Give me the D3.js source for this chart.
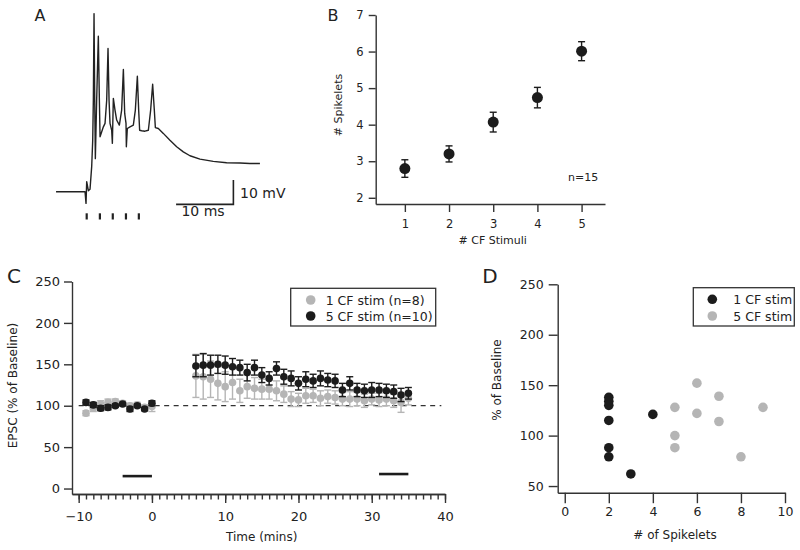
<!DOCTYPE html>
<html>
<head>
<meta charset="utf-8">
<script src="https://cdn.jsdelivr.net/npm/d3@7"></script>
<style>
  body { margin: 0; background: #fff; }
  svg { display: block; font-family: "DejaVu Sans", sans-serif; }
  .axis path, .axis line { stroke: #333; stroke-width: 1.4; }
  .axis text { fill: #222; }
</style>
</head>
<body>
<div id="fig"></div>
<script>
// Panel A: example voltage trace (ms, mV) and CF stimulus times
const traceT = [-5.35, -0.29, -0.12, 0, 0.29, 0.58, 0.87, 1.05, 1.16, 1.28, 1.40, 1.51, 1.74, 2.03, 2.21, 2.33,
    2.62, 2.91, 3.20, 3.49, 3.72, 3.90, 4.07, 4.36, 4.48, 4.65, 4.94, 5.23, 5.70, 6.10, 6.40, 6.63, 6.86,
    6.92, 7.09, 7.56, 8.14, 8.49, 8.84, 9.07, 9.24, 9.59, 10.17, 10.76, 11.16, 11.51, 11.80, 11.98, 12.50,
    13.37, 14.53, 15.70, 16.86, 18.02, 19.77, 22.09, 24.42, 26.74, 28.49, 30.23];
const traceV = [-70, -70, -74.8, -65.9, -69.6, -69.0, -59.7, -48.8, -32.3, 3.3, -32.3, -56.4, -32.3, -6.0, -32.3, -47.4,
    -45.3, -43.3, -41.9, -32.3, -11.1, -32.3, -41.9, -44.7, -50.1, -31.6, -36.4, -40.5, -42.6, -36.4, -19.7, -37.8, -41.9,
    -51.5, -44.0, -43.3, -42.6, -36.4, -22.5, -36.4, -44.7, -44.9, -45.1, -44.7, -36.4, -25.8, -36.4, -43.6, -44.0,
    -46.0, -48.8, -51.5, -53.6, -55.2, -56.6, -57.5, -58.1, -58.2, -58.4, -58.4];
const stimTimes = [0, 2.3, 4.55, 6.85, 9.1];

// Panel B: spikelets per number of CF stimuli
const cfStimuli = [1, 2, 3, 4, 5];
const spikeletMean = [2.80, 3.20, 4.07, 4.74, 6.01];
const spikeletSem = [0.24, 0.22, 0.27, 0.28, 0.26];

// Panel C: EPSC time course
const timeMins = [-9, -8, -7, -6, -5, -4, -3, -2, -1, 0,
    6, 7, 8, 9, 10, 11, 12, 13, 14, 15, 16, 17, 18, 19, 20,
    21, 22, 23, 24, 25, 26, 27, 28, 29, 30, 31, 32, 33, 34, 35];
const oneCfEpsc = [91, 97, 102, 104, 105, 103, 100, 101, 98, 99,
    136, 135, 132, 127, 123, 128, 118, 123, 121, 120, 120, 118, 114, 108, 107,
    112, 112, 109, 111, 110, 108, 108, 108, 106, 108, 107, 108, 106, 104, 109];
const oneCfSem = [3, 4, 4, 4, 3, 3, 3, 3, 3, 6,
    26, 27, 22, 20, 18, 20, 14, 14, 13, 12, 12, 12, 10, 9, 8,
    9, 8, 9, 8, 8, 8, 9, 8, 8, 7, 8, 8, 8, 12, 8];
const fiveCfEpsc = [104, 101, 97, 98, 100, 102, 96, 100, 96, 103,
    148, 149, 149, 150, 149, 147, 146, 140, 146, 137, 133, 145, 135, 133, 127,
    132, 130, 133, 131, 130, 119, 127, 119, 118, 119, 119, 118, 117, 113, 115];
const fiveCfSem = [3, 3, 3, 3, 2, 2, 3, 2, 2, 3,
    13, 14, 12, 11, 11, 10, 9, 10, 9, 9, 8, 8, 9, 9, 8,
    9, 8, 9, 8, 8, 8, 8, 8, 8, 9, 8, 8, 8, 8, 7];
const baselineWindow = [-4, 0];
const postWindow = [31, 35];

// Panel D: plasticity vs spikelets per cell
const oneCfSpikelets = [2, 2, 2, 2, 2, 2, 3, 4];
const oneCfPct = [138, 134, 130, 115, 88, 79, 62, 121];
const fiveCfSpikelets = [5, 5, 5, 6, 6, 7, 7, 8, 9];
const fiveCfPct = [128, 100, 88, 152, 122, 139, 114, 79, 128];

const dark = "#1c1c1c", light = "#b5b5b5";

const svg = d3.select("#fig").append("svg")
    .attr("width", 800)
    .attr("height", 550);
svg.append("rect").attr("width", 800).attr("height", 550).attr("fill", "#fff");

function panelLabel(txt, x, y, size) {
    svg.append("text").attr("x", x).attr("y", y)
        .attr("text-anchor", "middle")
        .style("font-size", size + "px").attr("fill", "#222")
        .text(txt);
}

function errorBars(g, xs, ys, es, sx, sy, color, cap) {
    xs.forEach((xv, i) => {
        const cx = sx(xv);
        g.append("line").attr("x1", cx).attr("x2", cx)
            .attr("y1", sy(ys[i] - es[i])).attr("y2", sy(ys[i] + es[i]))
            .attr("stroke", color).attr("stroke-width", 1.4);
        [ys[i] - es[i], ys[i] + es[i]].forEach(v => {
            g.append("line").attr("x1", cx - cap).attr("x2", cx + cap)
                .attr("y1", sy(v)).attr("y2", sy(v))
                .attr("stroke", color).attr("stroke-width", 1.4);
        });
    });
}

// ---------- A ----------
panelLabel("A", 40, 21, 16);
const xA = d3.scaleLinear().domain([0, 10]).range([86.7, 144]);
const yA = d3.scaleLinear().domain([-70, -60]).range([191.7, 167.4]);

svg.append("path")
    .datum(traceT)
    .attr("d", d3.line().x(d => xA(d)).y((d, i) => yA(traceV[i])))
    .attr("fill", "none").attr("stroke", "#222").attr("stroke-width", 1.4)
    .attr("stroke-linejoin", "round");

svg.selectAll(".stim").data(stimTimes).enter().append("line")
    .attr("x1", d => xA(d)).attr("x2", d => xA(d))
    .attr("y1", 213.3).attr("y2", 219.5)
    .attr("stroke", "#222").attr("stroke-width", 2.2);

// scale bars 10 ms / 10 mV
const sbT = 15.6, sbV = -75.2;
svg.append("path")
    .attr("d", `M${xA(sbT)},${yA(sbV)}H${xA(sbT + 10)}V${yA(sbV + 10)}`)
    .attr("fill", "none").attr("stroke", "#222").attr("stroke-width", 1.6);
svg.append("text").attr("x", 240).attr("y", 198).style("font-size", "14px").attr("fill", "#222").text("10 mV");
svg.append("text").attr("x", 203).attr("y", 216).attr("text-anchor", "middle")
    .style("font-size", "14px").attr("fill", "#222").text("10 ms");

// ---------- B ----------
panelLabel("B", 333, 21, 16);
const xB = d3.scaleLinear().domain([0.34, 5.53]).range([375.7, 605]);
const yB = d3.scaleLinear().domain([1.83, 7]).range([204, 15]);
const gB = svg.append("g");
gB.append("g").attr("class", "axis").attr("transform", "translate(375.7,0)")
    .call(d3.axisLeft(yB).tickValues([2, 3, 4, 5, 6, 7]).tickFormat(d3.format("d"))
        .tickSize(7).tickPadding(5).tickSizeOuter(0))
    .selectAll("text").style("font-size", "11.5px");
gB.append("g").attr("class", "axis").attr("transform", "translate(0,204)")
    .call(d3.axisBottom(xB).tickValues(cfStimuli).tickFormat(d3.format("d"))
        .tickSize(8).tickPadding(8).tickSizeOuter(0))
    .selectAll("text").style("font-size", "11.5px");
gB.selectAll(".axis").attr("font-family", null);
errorBars(gB, cfStimuli, spikeletMean, spikeletSem, xB, yB, dark, 3.5);
gB.selectAll(".ptB").data(cfStimuli).enter().append("circle")
    .attr("cx", d => xB(d)).attr("cy", (d, i) => yB(spikeletMean[i]))
    .attr("r", 5.5).attr("fill", dark);
gB.append("text").attr("transform", "translate(342,105) rotate(-90)")
    .attr("text-anchor", "middle").style("font-size", "11px").attr("fill", "#222").text("# Spikelets");
gB.append("text").attr("x", 492.7).attr("y", 244)
    .attr("text-anchor", "middle").style("font-size", "11px").attr("fill", "#222").text("# CF Stimuli");
gB.append("text").attr("x", 598.3).attr("y", 180.5)
    .attr("text-anchor", "end").style("font-size", "11px").attr("fill", "#222").text("n=15");

// ---------- C ----------
panelLabel("C", 14, 283, 20);
const xC = d3.scaleLinear().domain([-10.91, 40]).range([72, 445]);
const yC = d3.scaleLinear().domain([-6.6, 250]).range([494, 281.5]);
const gC = svg.append("g");
gC.append("g").attr("class", "axis").attr("transform", "translate(72,0)")
    .call(d3.axisLeft(yC).tickValues(d3.range(0, 251, 50)).tickSize(8).tickPadding(4).tickSizeOuter(0))
    .selectAll("text").style("font-size", "13px");
gC.append("g").attr("class", "axis").attr("transform", "translate(0,494)")
    .call(d3.axisBottom(xC).tickValues(d3.range(-10, 41, 1)).tickSize(5.5).tickFormat("").tickSizeOuter(0));
gC.append("g").attr("class", "axis").attr("transform", "translate(0,494)")
    .call(d3.axisBottom(xC).tickValues(d3.range(-10, 41, 10)).tickSize(9).tickPadding(9).tickSizeOuter(0))
    .selectAll("text").style("font-size", "13px");
gC.selectAll(".axis").attr("font-family", null);

gC.append("line")
    .attr("x1", xC(-10)).attr("x2", xC(39.5)).attr("y1", yC(100)).attr("y2", yC(100))
    .attr("stroke", "#333").attr("stroke-width", 1.3).attr("stroke-dasharray", "5,4.5");

errorBars(gC, timeMins, oneCfEpsc, oneCfSem, xC, yC, light, 3.5);
gC.selectAll(".ptC1").data(timeMins).enter().append("circle")
    .attr("cx", d => xC(d)).attr("cy", (d, i) => yC(oneCfEpsc[i]))
    .attr("r", 3.8).attr("fill", light);
errorBars(gC, timeMins, fiveCfEpsc, fiveCfSem, xC, yC, dark, 3.5);
gC.selectAll(".ptC5").data(timeMins).enter().append("circle")
    .attr("cx", d => xC(d)).attr("cy", (d, i) => yC(fiveCfEpsc[i]))
    .attr("r", 3.8).attr("fill", dark);

gC.append("line").attr("x1", xC(baselineWindow[0])).attr("x2", xC(baselineWindow[1]))
    .attr("y1", yC(15)).attr("y2", yC(15)).attr("stroke", dark).attr("stroke-width", 2.6);
gC.append("line").attr("x1", xC(postWindow[0])).attr("x2", xC(postWindow[1]))
    .attr("y1", yC(17.5)).attr("y2", yC(17.5)).attr("stroke", dark).attr("stroke-width", 2.6);

gC.append("text").attr("transform", "translate(17,385.5) rotate(-90)")
    .attr("text-anchor", "middle").style("font-size", "12px").attr("fill", "#222").text("EPSC (% of Baseline)");
gC.append("text").attr("x", 261.7).attr("y", 541)
    .attr("text-anchor", "middle").style("font-size", "12px").attr("fill", "#222").text("Time (mins)");

// legend C
gC.append("rect").attr("x", 290.7).attr("y", 288.3).attr("width", 145).attr("height", 37.7)
    .attr("fill", "#fff").attr("stroke", "#333").attr("stroke-width", 1.3);
[["1 CF stim (n=8)", light, 300], ["5 CF stim (n=10)", dark, 316]].forEach(([lbl, col, ly]) => {
    gC.append("circle").attr("cx", 310.7).attr("cy", ly).attr("r", 4.8).attr("fill", col);
    gC.append("text").attr("x", 325.7).attr("y", ly + 4.5).style("font-size", "12.5px")
        .attr("fill", "#222").text(lbl);
});

// ---------- D ----------
panelLabel("D", 490, 283, 20);
const xD = d3.scaleLinear().domain([-0.32, 10]).range([557.7, 785]);
const yD = d3.scaleLinear().domain([43.4, 250]).range([492.7, 284.3]);
const gD = svg.append("g");
gD.append("g").attr("class", "axis").attr("transform", "translate(557.7,0)")
    .call(d3.axisLeft(yD).tickValues(d3.range(50, 251, 50)).tickSize(9).tickPadding(5).tickSizeOuter(0))
    .selectAll("text").style("font-size", "12.5px");
gD.append("g").attr("class", "axis").attr("transform", "translate(0,492.7)")
    .call(d3.axisBottom(xD).tickValues(d3.range(0, 11, 2)).tickSize(10.5).tickPadding(4).tickSizeOuter(0))
    .selectAll("text").style("font-size", "12.5px");
gD.selectAll(".axis").attr("font-family", null);

gD.selectAll(".ptD5").data(fiveCfSpikelets).enter().append("circle")
    .attr("cx", d => xD(d)).attr("cy", (d, i) => yD(fiveCfPct[i]))
    .attr("r", 4.8).attr("fill", light);
gD.selectAll(".ptD1").data(oneCfSpikelets).enter().append("circle")
    .attr("cx", d => xD(d)).attr("cy", (d, i) => yD(oneCfPct[i]))
    .attr("r", 4.8).attr("fill", dark);

gD.append("text").attr("transform", "translate(501,380) rotate(-90)")
    .attr("text-anchor", "middle").style("font-size", "12px").attr("fill", "#222").text("% of Baseline");
gD.append("text").attr("x", 675).attr("y", 539)
    .attr("text-anchor", "middle").style("font-size", "12px").attr("fill", "#222").text("# of Spikelets");

// legend D
gD.append("rect").attr("x", 693.3).attr("y", 287.7).attr("width", 101).attr("height", 38.3)
    .attr("fill", "#fff").attr("stroke", "#333").attr("stroke-width", 1.3);
[["1 CF stim", dark, 299.3], ["5 CF stim", light, 316]].forEach(([lbl, col, ly]) => {
    gD.append("circle").attr("cx", 712.3).attr("cy", ly).attr("r", 4.8).attr("fill", col);
    gD.append("text").attr("x", 733.3).attr("y", ly + 4.5).style("font-size", "12.5px")
        .attr("fill", "#222").text(lbl);
});
</script>
</body>
</html>
